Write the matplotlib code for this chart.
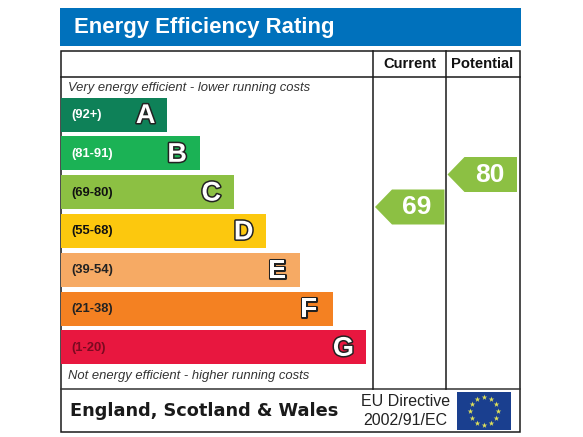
import numpy as np
import matplotlib
matplotlib.use('AGG')
import matplotlib.pyplot as plt
import matplotlib.patheffects as pe
from matplotlib.patches import Polygon, Rectangle

plt.rcParams['font.family'] = ['Liberation Sans', 'DejaVu Sans']

bands = ['(92+)', '(81-91)', '(69-80)', '(55-68)', '(39-54)', '(21-38)', '(1-20)']
letters = ['A', 'B', 'C', 'D', 'E', 'F', 'G']
bar_lengths = [106, 139, 172.5, 205, 239, 271.5, 304.5]
bar_colors = ['#0e8158', '#1bb255', '#8cc043', '#fcc80e', '#f6aa64', '#f48122', '#e8173f']
band_text = ['white', 'white', '#111111', '#111111', '#222222', '#222222', '#7a0a20']
letter_pads = [11.5, 13, 12.5, 12.5, 14, 15.5, 11.5]
current = 69
potential = 80
green = '#8cc043'

fig = plt.figure(figsize=(5.83, 4.37), dpi=100)
ax = fig.add_axes([0, 0, 1, 1])
ax.set_xlim(0, 583)
ax.set_ylim(437, 0)
ax.axis('off')

# banner
ax.add_patch(Rectangle((59.5, 7.5), 461, 38, fc='#0071bc', ec='none'))
ax.text(74, 28, 'Energy Efficiency Rating', color='white', fontsize=15.9, fontweight='bold', va='center')

# frame
ax.add_patch(Rectangle((60.5, 50.5), 459, 381.5, fc='white', ec='#1a1a1a', lw=1.1))
ax.plot([60.5, 519.5], [77, 77], color='#1a1a1a', lw=1.1)
ax.plot([60.5, 519.5], [389, 389], color='#333333', lw=1.1)
for x in [373, 445.5]:
    ax.plot([x, x], [50.5, 389], color='#1a1a1a', lw=1.1)

ax.text(409.5, 64.5, 'Current', fontsize=10.6, fontweight='bold', ha='center', va='center', color='#111111')
ax.text(482.5, 64.5, 'Potential', fontsize=10.6, fontweight='bold', ha='center', va='center', color='#111111')

ax.text(68, 88.5, 'Very energy efficient - lower running costs', fontsize=9.4, style='italic', va='center', color='#333333')
ax.text(68, 376, 'Not energy efficient - higher running costs', fontsize=9.4, style='italic', va='center', color='#333333')

# rating bars
ys = 114.5 + 38.8 * np.arange(len(bands))
ax.barh(ys, bar_lengths, height=34, left=61, color=bar_colors, edgecolor='none')
for y, length, band, letter, tc, pad in zip(ys, bar_lengths, bands, letters, band_text, letter_pads):
    ax.text(71.5, y + 0.5, band, fontsize=9.4, fontweight='bold', va='center', color=tc)
    ax.text(61 + length - pad, y + 1.5, letter, fontsize=19.5, fontweight='bold', ha='right', va='center', color='white',
            path_effects=[pe.Stroke(linewidth=2.2, foreground='#222222'), pe.Normal()])


def arrow(tip_x, mid_y, value):
    pts = [(tip_x, mid_y), (tip_x + 17, mid_y - 17.5), (tip_x + 69.5, mid_y - 17.5),
           (tip_x + 69.5, mid_y + 17.5), (tip_x + 17, mid_y + 17.5)]
    ax.add_patch(Polygon(pts, closed=True, fc=green, ec='none'))
    ax.text(tip_x + 42, mid_y + 0.5, str(value), color='white', fontsize=19, fontweight='bold', ha='center', va='center')


arrow(375, 207, current)
arrow(447.5, 174.5, potential)

# footer
ax.text(70, 410.5, 'England, Scotland & Wales', family='DejaVu Sans', fontsize=12.75, fontweight='bold', va='center', color='#1a1a1a')
ax.text(405.5, 401.5, 'EU Directive', fontsize=11.5, ha='center', va='center', color='#222222')
ax.text(405.5, 420.5, '2002/91/EC', fontsize=11.5, ha='center', va='center', color='#222222')

# EU flag
ax.add_patch(Rectangle((457, 392), 54, 38, fc='#1a3f8f', ec='none'))
ang = np.arange(12) * np.pi / 6
ax.scatter(484 + 14 * np.cos(ang), 411 + 14 * np.sin(ang), marker='*', s=18, color='#dfe05a', linewidths=0)

fig.savefig('out.png', dpi=100)
